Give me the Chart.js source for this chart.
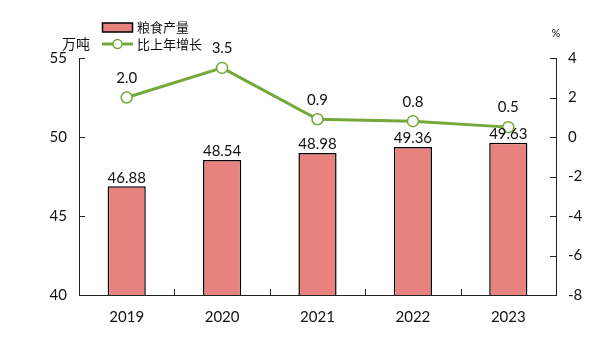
<!DOCTYPE html>
<html>
<head>
<meta charset="utf-8">
<script src="https://cdn.jsdelivr.net/npm/chart.js@4/dist/chart.umd.min.js"></script>
<style>
  html, body { margin: 0; padding: 0; background: #fff; }
  #wrap { width: 600px; height: 341px; }
</style>
</head>
<body>
<div id="wrap"><canvas id="grain"></canvas></div>
<script>
const years = ['2019', '2020', '2021', '2022', '2023']
const output = [46.88, 48.54, 48.98, 49.36, 49.63]
const growth = [2.0, 3.5, 0.9, 0.8, 0.5]
const leftTicks = [40, 45, 50, 55]
const rightTicks = [-8, -6, -4, -2, 0, 2, 4]

const barColor = '#E8827F'
const lineColor = '#74A83A'
const numFont = 'Lato, "Noto Sans CJK SC", sans-serif'
const cjkFont = '"Noto Sans CJK SC", sans-serif'

// inward ticks, value labels, legend, unit labels
const extras = {
  id: 'extras',
  afterDraw(chart) {
    const ctx = chart.ctx
    const area = chart.chartArea
    const y = chart.scales.y
    const y1 = chart.scales.y1
    const x = chart.scales.x
    ctx.save()
    ctx.strokeStyle = '#222'
    ctx.lineWidth = 1
    ctx.beginPath()
    leftTicks.forEach(v => {
      const py = Math.round(y.getPixelForValue(v)) + 0.5
      ctx.moveTo(area.left, py); ctx.lineTo(area.left + 6, py)
    })
    rightTicks.forEach(v => {
      const py = Math.round(y1.getPixelForValue(v)) + 0.5
      ctx.moveTo(area.right, py); ctx.lineTo(area.right - 6, py)
    })
    for (let i = 1; i < years.length; i++) {
      const px = Math.round((x.getPixelForValue(i - 1) + x.getPixelForValue(i)) / 2) + 0.5
      ctx.moveTo(px, area.bottom); ctx.lineTo(px, area.bottom - 6)
    }
    ctx.stroke()

    // value labels
    ctx.fillStyle = '#111'
    ctx.textAlign = 'center'
    ctx.textBaseline = 'bottom'
    ctx.font = '15px ' + numFont
    chart.getDatasetMeta(0).data.forEach((bar, i) => {
      ctx.fillText(output[i].toFixed(2), bar.x, bar.y - 1)
    })
    chart.getDatasetMeta(1).data.forEach((pt, i) => {
      ctx.fillText(growth[i].toFixed(1), pt.x, pt.y - 12)
    })

    // units
    ctx.font = '14px ' + cjkFont
    ctx.textBaseline = 'middle'
    ctx.fillText('万吨', 76, 44)
    ctx.font = '11px ' + numFont
    ctx.fillText('%', 556, 33)

    // legend
    ctx.fillStyle = barColor
    ctx.strokeStyle = '#000'
    ctx.lineWidth = 1.5
    ctx.fillRect(102.5, 23, 30, 9)
    ctx.strokeRect(102.5, 23, 30, 9)
    ctx.strokeStyle = lineColor
    ctx.lineWidth = 3
    ctx.beginPath(); ctx.moveTo(102, 44); ctx.lineTo(133, 44); ctx.stroke()
    ctx.fillStyle = '#fff'
    ctx.lineWidth = 1.5
    ctx.beginPath(); ctx.arc(117.5, 44, 4.5, 0, Math.PI * 2); ctx.fill(); ctx.stroke()
    ctx.fillStyle = '#111'
    ctx.textAlign = 'left'
    ctx.font = '13px ' + cjkFont
    ctx.fillText('粮食产量', 137, 27)
    ctx.fillText('比上年增长', 137, 44)
    ctx.restore()
  }
}

new Chart('grain', {
  type: 'bar',
  data: {
    labels: years,
    datasets: [{
      label: '粮食产量',
      data: output,
      backgroundColor: barColor,
      borderColor: '#000',
      borderWidth: 1.5,
      barPercentage: 0.4,
      categoryPercentage: 1,
      yAxisID: 'y',
      order: 2
    }, {
      type: 'line',
      label: '比上年增长',
      data: growth,
      borderColor: lineColor,
      borderWidth: 3,
      pointRadius: 5.5,
      pointBorderWidth: 1.5,
      pointBackgroundColor: '#fff',
      pointBorderColor: lineColor,
      yAxisID: 'y1',
      order: 1
    }]
  },
  options: {
    responsive: true,
    maintainAspectRatio: false,
    animation: false,
    layout: { padding: { top: 58, left: 0, right: 0, bottom: 0 } },
    plugins: { legend: { display: false }, tooltip: { enabled: false } },
    scales: {
      x: {
        grid: { display: false, drawTicks: false },
        border: { color: '#222', width: 1 },
        ticks: { color: '#111', font: { family: numFont, size: 15 }, padding: 13 },
        afterFit(s) { s.height = 46 }
      },
      y: {
        position: 'left',
        min: 40, max: 55,
        afterBuildTicks(s) { s.ticks = leftTicks.map(v => ({ value: v })) },
        grid: { display: false, drawTicks: false },
        border: { color: '#222', width: 1 },
        ticks: { color: '#111', font: { family: numFont, size: 15 }, padding: 12 },
        afterFit(s) { s.width = 79 }
      },
      y1: {
        position: 'right',
        min: -8, max: 4,
        afterBuildTicks(s) { s.ticks = rightTicks.map(v => ({ value: v })) },
        grid: { display: false, drawTicks: false },
        border: { color: '#222', width: 1 },
        ticks: { color: '#111', font: { family: numFont, size: 15 }, padding: 12 },
        afterFit(s) { s.width = 44 }
      }
    }
  },
  plugins: [extras]
})
</script>
</body>
</html>
